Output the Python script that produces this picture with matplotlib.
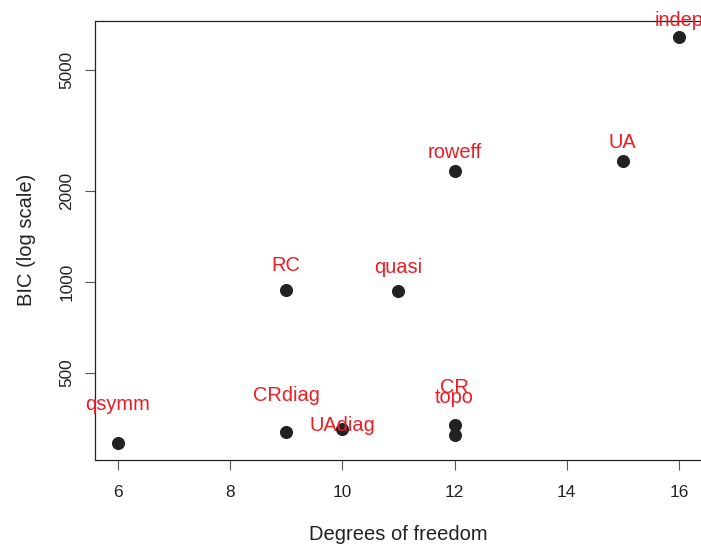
import matplotlib
matplotlib.use('Agg')
import matplotlib.pyplot as plt
import numpy as np

plt.rcParams['font.family'] = ['Liberation Sans', 'DejaVu Sans']

# models, degrees of freedom and BIC
models = ["indep", "UA", "roweff", "RC", "quasi", "qsymm", "CRdiag", "UAdiag", "CR", "topo"]
df = [16, 15, 12, 9, 11, 6, 9, 10, 12, 12]
bic = [6430, 2514, 2329, 941, 934, 293, 319, 326, 336, 312]
# vertical offset of each label above its point (pixels)
label_dy = [11, 13, 13, 19, 18, 33, 31, -2, 32, 32]

fig = plt.figure(figsize=(7.01, 5.44), dpi=100)
ax = fig.add_axes([95.5 / 701, 1 - 459.5 / 544, (701.4 - 95.5) / 701, (459.5 - 21) / 544])

ax.plot(df, bic, 'o', color='#222222', markersize=8.4, linestyle='None', clip_on=False)
for name, x, y, dy in zip(models, df, bic, label_dy):
    ax.annotate(name, (x, y), xytext=(0, dy * 0.72), textcoords='offset points',
                ha='center', va='baseline', color='#ee1c25', fontsize=14.4,
                annotation_clip=False)

ax.set_yscale('log')
lo, hi = np.log10(min(bic)), np.log10(max(bic))
pad = 0.04 * (hi - lo)
ax.set_ylim(10 ** (lo - pad), 10 ** (hi + pad))
ax.set_xlim(5.6, 16.4)

ax.set_yticks([500, 1000, 2000, 5000])
ax.set_yticklabels(['500', '1000', '2000', '5000'], rotation=90, va='center')
ax.yaxis.set_minor_locator(matplotlib.ticker.NullLocator())
ax.set_xticks([6, 8, 10, 12, 14, 16])

for s in ax.spines.values():
    s.set_color('#222222')
    s.set_linewidth(0.9)
ax.spines['right'].set_visible(False)
ax.tick_params(axis='both', length=7.2, width=0.8, color='#555555',
               labelsize=12.4, labelcolor='#222222')
ax.tick_params(axis='x', pad=11)
ax.tick_params(axis='y', pad=8)

ax.set_xlabel("Degrees of freedom", fontsize=14.5, color='#222222', labelpad=18)
ax.set_ylabel("BIC (log scale)", fontsize=14.5, color='#222222', labelpad=17)

plt.savefig("out.png", dpi=100)
